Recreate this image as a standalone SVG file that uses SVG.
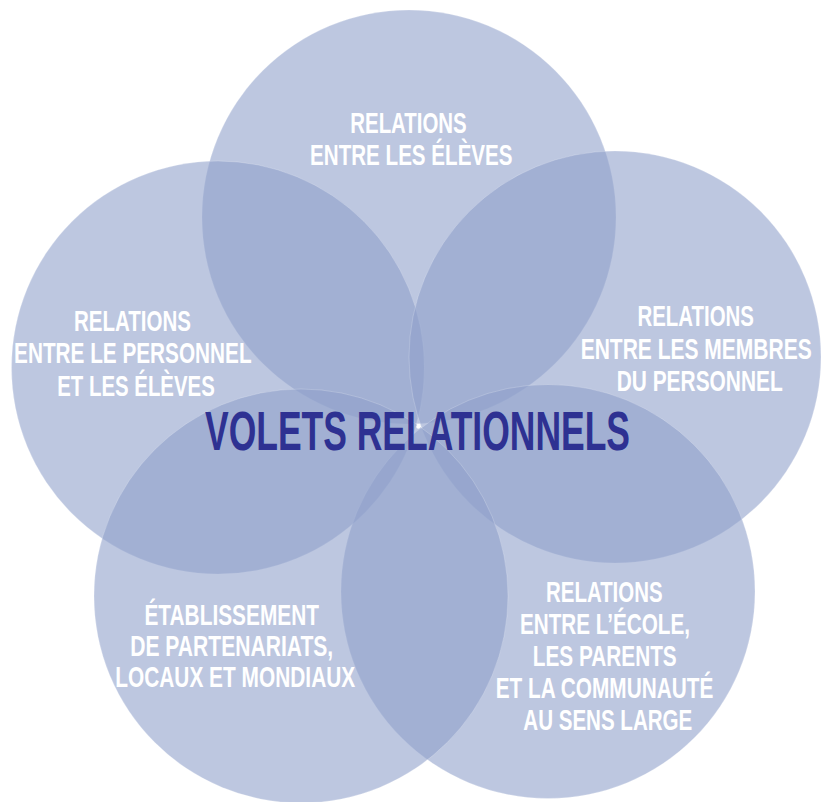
<svg xmlns="http://www.w3.org/2000/svg" width="822" height="802" viewBox="0 0 822 802">
<style>
.c{fill:#8FA0CA;fill-opacity:0.59;stroke:#ffffff;stroke-opacity:0.35;stroke-width:0.6}
.t{font-family:"Liberation Sans","Arial",sans-serif;font-weight:bold;font-size:30px;fill:#ffffff;text-anchor:middle}
.title{font-family:"Liberation Sans","Arial",sans-serif;font-weight:bold;font-size:55px;fill:#2E3192;text-anchor:middle}
</style>
<rect width="822" height="802" fill="#ffffff"/>
<g id="node-eleves">
<circle class="c" cx="409" cy="217" r="207"/>
<text class="t" transform="translate(408.5,132.5) scale(0.68,1)" textLength="171.3" lengthAdjust="spacingAndGlyphs">RELATIONS</text>
<text class="t" transform="translate(411.3,164.5) scale(0.68,1)" textLength="297.8" lengthAdjust="spacingAndGlyphs">ENTRE LES ÉLÈVES</text>
</g>
<g id="node-personnel-eleves">
<circle class="c" cx="218" cy="367.5" r="206.5"/>
<text class="t" transform="translate(132.5,331) scale(0.68,1)" textLength="172.1" lengthAdjust="spacingAndGlyphs">RELATIONS</text>
<text class="t" transform="translate(132.8,363) scale(0.68,1)" textLength="349.3" lengthAdjust="spacingAndGlyphs">ENTRE LE PERSONNEL</text>
<text class="t" transform="translate(136,395.5) scale(0.68,1)" textLength="231.6" lengthAdjust="spacingAndGlyphs">ET LES ÉLÈVES</text>
</g>
<g id="node-membres">
<circle class="c" cx="615" cy="357" r="206"/>
<text class="t" transform="translate(695.7,326) scale(0.68,1)" textLength="171.3" lengthAdjust="spacingAndGlyphs">RELATIONS</text>
<text class="t" transform="translate(696.2,358.5) scale(0.68,1)" textLength="339.7" lengthAdjust="spacingAndGlyphs">ENTRE LES MEMBRES</text>
<text class="t" transform="translate(699.7,391) scale(0.68,1)" textLength="244.1" lengthAdjust="spacingAndGlyphs">DU PERSONNEL</text>
</g>
<g id="node-communaute">
<circle class="c" cx="548" cy="591.5" r="207"/>
<text class="t" transform="translate(604.3,601.7) scale(0.68,1)" textLength="171.3" lengthAdjust="spacingAndGlyphs">RELATIONS</text>
<text class="t" transform="translate(605,633.5) scale(0.68,1)" textLength="250" lengthAdjust="spacingAndGlyphs">ENTRE L’ÉCOLE,</text>
<text class="t" transform="translate(604.7,665.7) scale(0.68,1)" textLength="211.8" lengthAdjust="spacingAndGlyphs">LES PARENTS</text>
<text class="t" transform="translate(604.5,697.5) scale(0.68,1)" textLength="319.9" lengthAdjust="spacingAndGlyphs">ET LA COMMUNAUTÉ</text>
<text class="t" transform="translate(607.8,730) scale(0.68,1)" textLength="248.5" lengthAdjust="spacingAndGlyphs">AU SENS LARGE</text>
</g>
<g id="node-partenariats">
<circle class="c" cx="301" cy="596" r="207"/>
<text class="t" transform="translate(231.7,624.5) scale(0.68,1)" textLength="256.6" lengthAdjust="spacingAndGlyphs">ÉTABLISSEMENT</text>
<text class="t" transform="translate(231.7,655.5) scale(0.68,1)" textLength="298.5" lengthAdjust="spacingAndGlyphs">DE PARTENARIATS,</text>
<text class="t" transform="translate(235.2,686.5) scale(0.68,1)" textLength="352.9" lengthAdjust="spacingAndGlyphs">LOCAUX ET MONDIAUX</text>
</g>
<g id="node-center">
<circle cx="418.3" cy="426.7" r="2" fill="#ffffff"/>
<text class="title" transform="translate(417.5,450) scale(0.64,1)" textLength="664" lengthAdjust="spacingAndGlyphs">VOLETS RELATIONNELS</text>
</g>
</svg>
